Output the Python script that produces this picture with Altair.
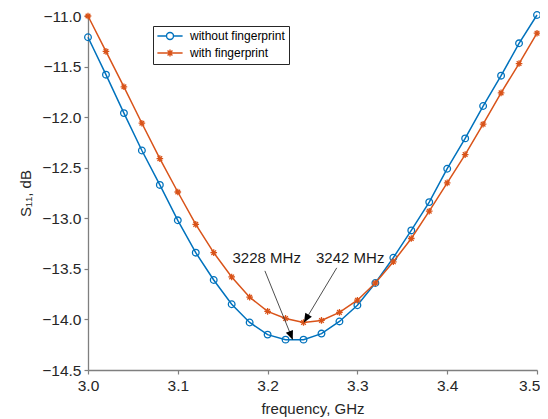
import math
import altair as alt
import pandas as pd

# ---- data ----
freq = [3.00, 3.02, 3.04, 3.06, 3.08, 3.10, 3.12, 3.14, 3.16, 3.18, 3.20, 3.22, 3.24,
        3.26, 3.28, 3.30, 3.32, 3.34, 3.36, 3.38, 3.40, 3.42, 3.44, 3.46, 3.48, 3.50]
s11_without = [-11.21, -11.58, -11.96, -12.33, -12.67, -13.02, -13.34, -13.61, -13.85,
               -14.03, -14.15, -14.20, -14.20, -14.14, -14.02, -13.86, -13.64, -13.39,
               -13.12, -12.84, -12.51, -12.21, -11.89, -11.59, -11.27, -10.99]
s11_with = [-11.00, -11.35, -11.70, -12.06, -12.41, -12.74, -13.06, -13.34, -13.58,
            -13.78, -13.92, -13.99, -14.03, -14.01, -13.93, -13.81, -13.64, -13.43,
            -13.20, -12.93, -12.65, -12.37, -12.07, -11.76, -11.47, -11.17]
series_names = ["without fingerprint", "with fingerprint"]
series_colors = ["#0072BD", "#D95319"]

ann_labels = ["3228 MHz", "3242 MHz"]
ann_text_x = [3.199, 3.292]
ann_text_y = [-13.39, -13.39]
ann_start_x = [3.197, 3.277]
ann_start_y = [-13.52, -13.49]
ann_end_x = [3.228, 3.2405]
ann_end_y = [-14.20, -14.03]

x_ticks = [3.0, 3.1, 3.2, 3.3, 3.4, 3.5]
y_ticks = [-14.5, -14.0, -13.5, -13.0, -12.5, -12.0, -11.5, -11.0]

FONT = "Liberation Sans"
W, H = 449, 354
XDOM = [3.0, 3.5]
YDOM = [-14.5, -11.0]

# ---- tables ----
df = pd.DataFrame({
    "freq": freq * 2,
    "s11": s11_without + s11_with,
    "series": [series_names[0]] * len(freq) + [series_names[1]] * len(freq),
})

ann = pd.DataFrame({
    "label": ann_labels, "tx": ann_text_x, "ty": ann_text_y,
    "x1": ann_start_x, "y1": ann_start_y, "x2": ann_end_x, "y2": ann_end_y,
})
px_x = W / (XDOM[1] - XDOM[0])
px_y = H / (YDOM[1] - YDOM[0])
angles = []
for i in range(len(ann)):
    dx = (ann.x2[i] - ann.x1[i]) * px_x
    dy_screen = -(ann.y2[i] - ann.y1[i]) * px_y
    angles.append(math.degrees(math.atan2(dx, -dy_screen)) % 360)
ann["angle"] = angles

ASTER = "M-1,0L1,0M0,-1L0,1M-0.7,-0.7L0.7,0.7M-0.7,0.7L0.7,-0.7"
LEG_CIRCLE = "M-3.6,0L-1,0M1,0L3.6,0M1,0A1,1,0,1,1,-1,0A1,1,0,1,1,1,0"
LEG_ASTER = "M-3.6,0L3.6,0M0,-1L0,1M-0.7,-0.7L0.7,0.7M-0.7,0.7L0.7,-0.7"
ARROW = "M0,0L0.43,1L-0.43,1Z"

xs = alt.Scale(domain=XDOM, nice=False, zero=False)
ys = alt.Scale(domain=YDOM, nice=False, zero=False)
cs = alt.Scale(domain=series_names, range=series_colors)

x_axis = alt.Axis(
    values=x_ticks, format=".1f", title="frequency, GHz", tickSize=4,
    labelPadding=4, titlePadding=8, labelFlush=False,
    labelAlign={"condition": {"test": f"datum.value >= {XDOM[1]}", "value": "right"},
                "value": "center"},
    labelOffset={"condition": {"test": f"datum.value >= {XDOM[1]}", "value": 3},
                 "value": 0},
)
y_axis = alt.Axis(values=y_ticks, format=".1f", title="S₁₁, dB", tickSize=4,
                  labelPadding=3, titlePadding=8, labelFlush=False)

base = alt.Chart(df)


def series_layers(name, color, shape, size):
    sub = base.transform_filter(alt.datum.series == name)
    line = sub.mark_line(strokeWidth=1.5, color=color).encode(
        x=alt.X("freq:Q", scale=xs, axis=x_axis),
        y=alt.Y("s11:Q", scale=ys, axis=y_axis),
    )
    pts = sub.mark_point(shape=shape, size=size, filled=False, strokeWidth=1.3,
                         color=color, opacity=1).encode(x="freq:Q", y="s11:Q")
    return [line, pts]


layers = []
layers += series_layers(series_names[0], series_colors[0], "circle", 44)
layers += series_layers(series_names[1], series_colors[1], ASTER, 44)

legend_layer = base.transform_filter("false").mark_point(
    filled=False, size=49, strokeWidth=1.4, opacity=1
).encode(
    x="freq:Q", y="s11:Q",
    color=alt.Color("series:N", scale=cs, legend=alt.Legend(
        orient="none", legendX=65, legendY=10, title=None,
        fillColor="white", strokeColor="#262626", padding=4,
        labelFont=FONT, labelFontSize=12, labelColor="#000000",
        symbolOffset=7, labelOffset=14, rowPadding=3,
        symbolSize=49, symbolStrokeWidth=1.4, symbolFillColor="transparent",
        symbolOpacity=1,
    )),
    shape=alt.Shape("series:N", scale=alt.Scale(domain=series_names,
                                                range=[LEG_CIRCLE, LEG_ASTER])),
)

rules = alt.Chart(ann).mark_rule(color="#3a3a3a", strokeWidth=0.9).encode(
    x="x1:Q", y="y1:Q", x2="x2:Q", y2="y2:Q")

heads = alt.Chart(ann).mark_point(shape=ARROW, size=320, filled=True,
                                  color="#000000", opacity=1).encode(
    x="x2:Q", y="y2:Q", angle=alt.Angle("angle:Q", scale=None))

texts = alt.Chart(ann).mark_text(font=FONT, fontSize=15, color="#1a1a1a",
                                 align="center", baseline="middle").encode(
    x="tx:Q", y="ty:Q", text="label:N")

chart = alt.layer(*layers, legend_layer, rules, heads, texts).properties(
    width=W, height=H,
    autosize=alt.AutoSizeParams(type="none"),
    padding={"left": 80, "top": 8, "right": 3, "bottom": 48},
).configure_view(stroke=None).configure_axis(
    grid=False, domainColor="#7f7f7f", tickColor="#7f7f7f", domainWidth=1.3,
    tickWidth=1.2, labelFont=FONT, labelFontSize=15.5, labelColor="#262626",
    titleFont=FONT, titleFontSize=15, titleFontWeight="normal", titleColor="#262626",
).configure_legend(labelLimit=300)

chart.save("out.html", embed_options={"renderer": "svg", "actions": False})
